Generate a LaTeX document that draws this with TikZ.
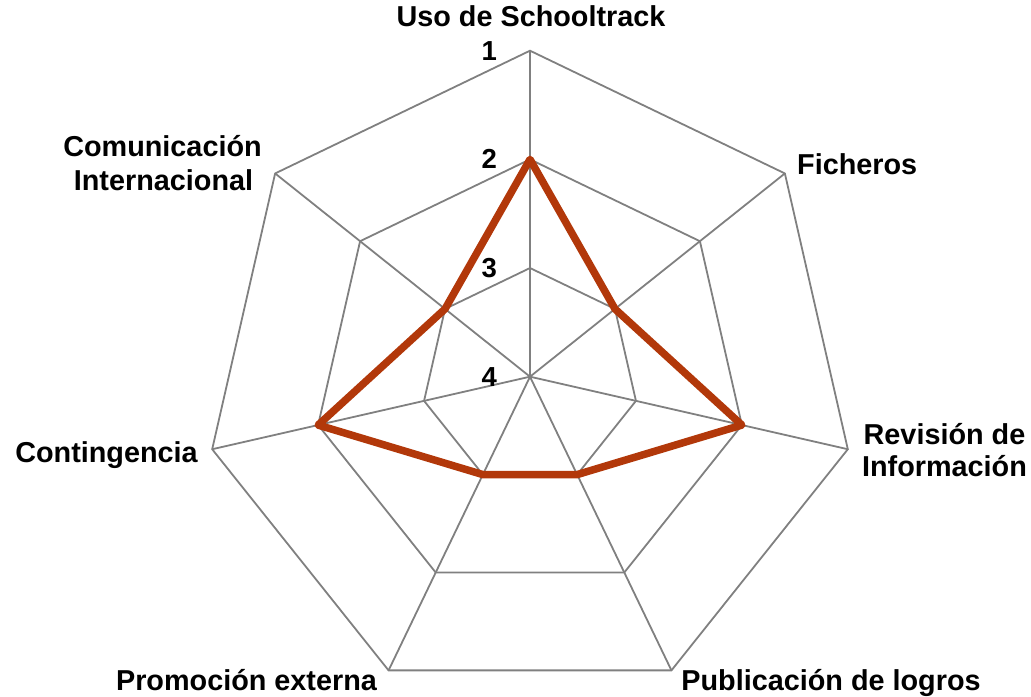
\documentclass[tikz,border=0pt]{standalone}
\usepackage{fontspec}
\setmainfont{Liberation Sans}
\usetikzlibrary{calc}
\definecolor{gridgray}{RGB}{128,128,128}
\definecolor{seriesred}{RGB}{178,56,10}
\begin{document}
\begin{tikzpicture}[x=1bp,y=1bp,
  grid/.style={draw=gridgray,line width=1.8bp},
  series/.style={draw=seriesred,line width=7.5bp,line join=round},
  lab/.style={font=\bfseries\fontsize{28.8bp}{33bp}\selectfont,inner sep=0pt},
  num/.style={font=\bfseries\fontsize{27.5bp}{30bp}\selectfont,inner sep=0pt,anchor=east}]
\useasboundingbox (0,0) rectangle (1031,697);
\coordinate (c) at (530,320.3);
\def\R{326}
% axes vertices
\foreach \k in {0,...,6}{
  \coordinate (v\k) at ($(c)+({90-\k*360/7}:\R)$);
}
% rings
\foreach \j in {1,2,3}{
  \draw[grid] ($(c)+(90:{\R*\j/3})$)
    \foreach \k in {1,...,6}{ -- ($(c)+({90-\k*360/7}:{\R*\j/3})$) } -- cycle;
}
% spokes
\foreach \k in {0,...,6}{
  \draw[grid] (c) -- (v\k);
}
% data points (levels 2,3,2,3,3,2,3 -> fraction of radius)
\foreach \k/\f in {0/2,1/1,2/2,3/1,4/1,5/2,6/1}{
  \coordinate (p\k) at ($(c)+({90-\k*360/7}:{\R*\f/3})$);
}
\draw[series] (p0) -- (p1) -- (p2) -- (p3) -- (p4) -- (p5) -- (p6) -- cycle;
% scale labels
\node[num] (n1) at ($(c)+(-33,326)$) {1};
\node[num] (n2) at ($(c)+(-33,217.3)$) {2};
\node[num] (n3) at ($(c)+(-33,108.7)$) {3};
\node[num] (n4) at ($(c)+(-33,0)$) {4};
% axis labels
\node[lab,anchor=base] (uso) at (531,670.3) {Uso de Schooltrack};
\node[lab,anchor=base west] (fich) at (797,522.7) {Ficheros};
\node[lab,anchor=base] (rev1) at (944.5,252) {Revisión de};
\node[lab,anchor=base] (rev2) at (944.5,220.3) {Información};
\node[lab,anchor=base] (pub) at (831,6) {Publicación de logros};
\node[lab,anchor=base] (prom) at (246.5,6) {Promoción externa};
\node[lab,anchor=base] (cont) at (106.5,234.3) {Contingencia};
\node[lab,anchor=base] (com1) at (162.5,540.3) {Comunicación};
\node[lab,anchor=base] (com2) at (163.5,506.3) {Internacional};
\end{tikzpicture}
\end{document}
